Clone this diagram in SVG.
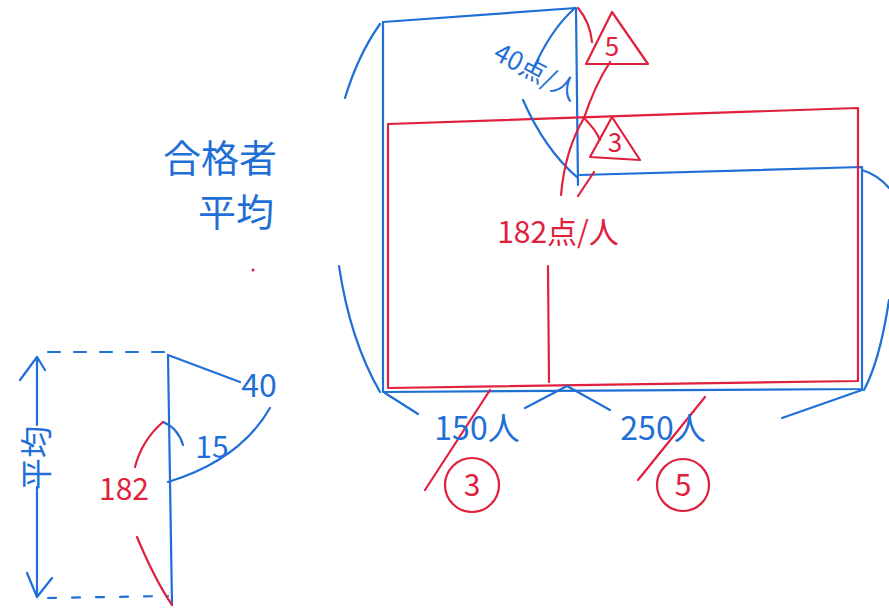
<svg xmlns="http://www.w3.org/2000/svg" width="889" height="614" viewBox="0 0 889 614">
<style>
.b{stroke:#1f6fd6;stroke-width:2.2;fill:none;stroke-linecap:round;stroke-linejoin:round}
.r{stroke:#e0203c;stroke-width:2.2;fill:none;stroke-linecap:round;stroke-linejoin:round}
.tb{fill:#1f6fd6;font-family:"Noto Sans CJK JP","Noto Sans",sans-serif}
.tr{fill:#e0203c;font-family:"Noto Sans CJK JP","Noto Sans",sans-serif}
</style>
<rect width="889" height="614" fill="#fff"/>
<!-- big chart -->
<g id="blue-shape">
<path class="b" d="M383,22 L576,8 L578,185"/>
<path class="b" d="M383,22 L383,392 L862,389 L862,167 L580,175"/>
</g>
<g id="red-shape">
<path class="r" d="M388,124 L858,108 L858,381 L388,388 Z"/>
<path class="r" d="M548,266 L549,382"/>
</g>
<g id="connectors">
<path class="b" d="M345,98 Q358,55 380,24"/>
<path class="b" d="M339,266 Q350,340 380,392"/>
<path class="b" d="M862,170 Q878,175 889,188"/>
<path class="b" d="M889,300 Q880,360 864,390"/>
<path class="b" d="M385,393 L418,414"/>
<path class="b" d="M567,386 L525,408 M567,386 L610,410"/>
<path class="b" d="M862,390 L782,418"/>
<path class="b" d="M575,8 Q550,30 532,72"/>
<path class="b" d="M523,100 Q545,150 578,178"/>
<path class="r" d="M578,8 Q590,22 592,42"/>
<path class="r" d="M610,62 Q595,85 584,118"/>
<path class="r" d="M584,118 Q596,130 600,140"/>
<path class="r" d="M584,118 Q565,150 561,195"/>
<path class="r" d="M594,172 L578,196"/>
<path class="r" d="M425,490 L490,390"/>
<path class="r" d="M638,480 L705,397"/>
</g>
<g id="triangles">
<path class="r" d="M586,64 L612,12 L648,64 Z"/>
<path class="r" d="M590,157 L612,117 L640,160 Z"/>
<text class="tr" x="612" y="56" font-size="26" text-anchor="middle">5</text>
<text class="tr" x="615" y="152" font-size="26" text-anchor="middle">3</text>
</g>
<g id="labels">
<text class="tb" x="220" y="172" font-size="38" text-anchor="middle">合格者</text>
<text class="tb" x="236" y="226" font-size="38" text-anchor="middle">平均</text>
<text class="tb" transform="translate(532,80) rotate(28)" font-size="26" text-anchor="middle">40点/人</text>
<text class="tr" x="558" y="243" font-size="30" text-anchor="middle">182点/人</text>
<text class="tb" x="477" y="440" font-size="32" text-anchor="middle">150人</text>
<text class="tb" x="663" y="440" font-size="32" text-anchor="middle">250人</text>
</g>
<g id="circles">
<circle class="r" cx="472" cy="485" r="27"/>
<circle class="r" cx="683" cy="485" r="26"/>
<text class="tr" x="472" y="496" font-size="30" text-anchor="middle">3</text>
<text class="tr" x="683" y="496" font-size="30" text-anchor="middle">5</text>
</g>
<circle cx="253" cy="270" r="1.5" fill="#e0203c"/>
<!-- small left diagram -->
<g id="left-diagram">
<path class="b" d="M168,355 L172,605"/>
<path class="b" d="M168,355 L240,382"/>
<path class="b" d="M270,408 Q240,460 168,482"/>
<path class="b" d="M163,422 Q178,428 183,445"/>
<path class="r" d="M163,422 Q142,440 135,467"/>
<path class="r" d="M137,537 Q155,580 172,605"/>
<path class="b" d="M37,357 L37,425 M37,487 L37,597"/>
<path class="b" d="M20,380 L37,357 L45,370"/>
<path class="b" d="M27,573 L37,597 L52,578"/>
<path class="b" d="M48,352 L168,352" stroke-dasharray="12,14"/>
<path class="b" d="M48,598 L168,596" stroke-dasharray="8,16"/>
<text class="tb" x="259" y="397" font-size="32" text-anchor="middle">40</text>
<text class="tb" x="212" y="458" font-size="30" text-anchor="middle">15</text>
<text class="tr" x="124" y="500" font-size="30" text-anchor="middle">182</text>
<text class="tb" transform="translate(48,458) rotate(-90)" font-size="32" text-anchor="middle">平均</text>
</g>
</svg>
